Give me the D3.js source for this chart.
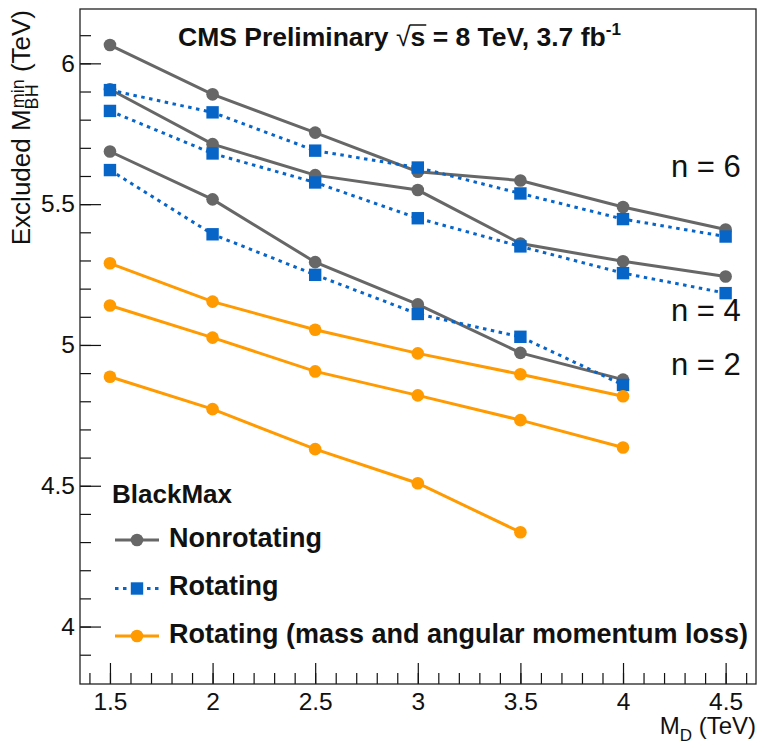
<!DOCTYPE html>
<html>
<head>
<meta charset="utf-8">
<script src="https://cdn.jsdelivr.net/npm/d3@7"></script>
<style>
  body { margin: 0; background: #fff; }
  svg { display: block; font-family: "Liberation Sans", Arial, sans-serif; }
</style>
</head>
<body>
<svg id="chart" width="764" height="748"></svg>
<script>
// M_D values (TeV)
const md = [1.5, 2, 2.5, 3, 3.5, 4, 4.5]

// Nonrotating (grey circles)
const nonrotN6 = [6.065, 5.89, 5.754, 5.615, 5.584, 5.49, 5.41]
const nonrotN4 = [5.908, 5.713, 5.603, 5.55, 5.36, 5.297, 5.243]
const nonrotN2 = [5.687, 5.517, 5.294, 5.144, 4.972, 4.877]

// Rotating (blue squares, dotted)
const rotN6 = [5.905, 5.826, 5.69, 5.63, 5.538, 5.447, 5.385]
const rotN4 = [5.831, 5.68, 5.577, 5.45, 5.35, 5.255, 5.184]
const rotN2 = [5.621, 5.393, 5.249, 5.11, 5.029, 4.858]

// Rotating with mass and angular momentum loss (orange circles)
const lossN6 = [5.29, 5.154, 5.054, 4.97, 4.896, 4.818]
const lossN4 = [5.14, 5.026, 4.906, 4.821, 4.733, 4.636]
const lossN2 = [4.887, 4.772, 4.63, 4.509, 4.335]

const xTicks = [1.5, 2, 2.5, 3, 3.5, 4, 4.5]
const yTicks = [4, 4.5, 5, 5.5, 6]
const nLabels = ['n = 6', 'n = 4', 'n = 2']
const nLabelY = [5.595, 5.084, 4.895]
const legendTitle = 'BlackMax'
const legendNames = ['Nonrotating', 'Rotating', 'Rotating (mass and angular momentum loss)']

const svg = d3.select('#chart')
const x0 = 80, x1 = 756, y0 = 684, y1 = 9

const x = d3.scaleLinear().domain([1.354, 4.648]).range([x0, x1])
const y = d3.scaleLinear().domain([3.796, 6.193]).range([y0, y1])

const styles = {
  nonrot: { color: '#676767', dash: null, shape: 'circle' },
  rot: { color: '#0865c8', dash: '3.5,4.5', shape: 'square' },
  loss: { color: '#ff9a00', dash: null, shape: 'circle' }
}

const series = [
  { type: 'nonrot', values: nonrotN6 },
  { type: 'nonrot', values: nonrotN4 },
  { type: 'nonrot', values: nonrotN2 },
  { type: 'rot', values: rotN6 },
  { type: 'rot', values: rotN4 },
  { type: 'rot', values: rotN2 },
  { type: 'loss', values: lossN6 },
  { type: 'loss', values: lossN4 },
  { type: 'loss', values: lossN2 }
]

// axes: minor ticks first, then majors with labels
const minorX = d3.range(14, 47).map(d => d / 10)
const minorY = d3.range(39, 62).map(d => d / 10)

svg.append('g').attr('transform', `translate(0,${y0})`)
  .call(d3.axisBottom(x).tickValues(minorX).tickSize(-11).tickFormat(''))
svg.append('g').attr('transform', `translate(0,${y0})`)
  .call(d3.axisBottom(x).tickValues(xTicks).tickSize(-21).tickPadding(9).tickFormat(d3.format('~g')))
svg.append('g').attr('transform', `translate(${x0},0)`)
  .call(d3.axisLeft(y).tickValues(minorY).tickSize(-11).tickFormat(''))
svg.append('g').attr('transform', `translate(${x0},0)`)
  .call(d3.axisLeft(y).tickValues(yTicks).tickSize(-21).tickPadding(5).tickFormat(d3.format('~g')))

svg.selectAll('.domain').remove()
svg.selectAll('.tick line').attr('stroke', '#111').attr('stroke-width', 1.2)
svg.selectAll('.tick text').attr('fill', '#111').style('font-size', '24.5px').style('font-family', '"Liberation Sans", Arial, sans-serif')

// frame
svg.append('rect')
  .attr('x', x0).attr('y', y1)
  .attr('width', x1 - x0).attr('height', y0 - y1)
  .attr('fill', 'none').attr('stroke', '#222').attr('stroke-width', 1.3)

// lines and markers
const line = d3.line().x((d, i) => x(md[i])).y(d => y(d))

const drawMarker = (g, st, cx, cy) => {
  if (st.shape === 'circle') {
    g.append('circle').attr('cx', cx).attr('cy', cy).attr('r', 6.3).attr('fill', st.color)
  } else {
    g.append('rect').attr('x', cx - 6.2).attr('y', cy - 6.2).attr('width', 12.4).attr('height', 12.4).attr('fill', st.color)
  }
}

series.forEach(s => {
  const st = styles[s.type]
  const g = svg.append('g')
  g.append('path')
    .attr('d', line(s.values))
    .attr('fill', 'none')
    .attr('stroke', st.color)
    .attr('stroke-width', 3)
    .attr('stroke-dasharray', st.dash)
  s.values.forEach((v, i) => drawMarker(g, st, x(md[i]), y(v)))
})

// n labels
svg.selectAll('text.nlab').data(nLabels).enter().append('text')
  .attr('class', 'nlab')
  .attr('x', 671)
  .attr('y', (d, i) => y(nLabelY[i]))
  .style('font-size', '31px')
  .attr('fill', '#111')
  .text(d => d)

// title
const title = svg.append('text')
  .attr('x', 178).attr('y', 46)
  .style('font-size', '26.5px').style('font-weight', 'bold').attr('fill', '#111')
title.append('tspan').text('CMS Preliminary  ')
title.append('tspan').style('font-weight', 'normal').text('\u221A')
const sSpan = title.append('tspan').text('s')
title.append('tspan').text(' = 8 TeV, 3.7 fb')
title.append('tspan').attr('dy', -11).style('font-size', '17px').text('-1')
{
  const box = sSpan.node().getBBox()
  svg.append('line')
    .attr('x1', box.x - 1).attr('x2', box.x + box.width + 1)
    .attr('y1', 46 - 21).attr('y2', 46 - 21)
    .attr('stroke', '#111').attr('stroke-width', 1.5)
}

// y axis title
const ylab = svg.append('text')
  .attr('transform', 'rotate(-90)')
  .attr('x', -10).attr('y', 30)
  .attr('text-anchor', 'end')
  .style('font-size', '26px').attr('fill', '#111')
ylab.append('tspan').text('Excluded M')
ylab.append('tspan').attr('dy', 8).style('font-size', '18px').text('BH')
ylab.append('tspan').attr('dx', -24).attr('dy', -14).style('font-size', '18px').text('min')
ylab.append('tspan').attr('dy', 6).text(' (TeV)')

// x axis title
const xlab = svg.append('text')
  .attr('x', x1).attr('y', 734)
  .attr('text-anchor', 'end')
  .style('font-size', '24px').attr('fill', '#111')
xlab.append('tspan').text('M')
xlab.append('tspan').attr('dy', 7).style('font-size', '17px').text('D')
xlab.append('tspan').attr('dy', -7).text(' (TeV)')

// legend
const lg = svg.append('g')
lg.append('text')
  .attr('x', 112).attr('y', 503)
  .style('font-size', '26px').style('font-weight', 'bold').attr('fill', '#111')
  .text(legendTitle)

const legendTypes = ['nonrot', 'rot', 'loss']
const legendY = [540, 588.5, 636]
legendTypes.forEach((t, i) => {
  const st = styles[t]
  const ly = legendY[i]
  lg.append('line')
    .attr('x1', 115).attr('x2', 159).attr('y1', ly).attr('y2', ly)
    .attr('stroke', st.color).attr('stroke-width', 3)
    .attr('stroke-dasharray', st.dash)
  drawMarker(lg, st, 137, ly)
  lg.append('text')
    .attr('x', 169).attr('y', ly + 6.5)
    .style('font-size', '27px').style('font-weight', 'bold').attr('fill', '#111')
    .text(legendNames[i])
})
</script>
</body>
</html>
